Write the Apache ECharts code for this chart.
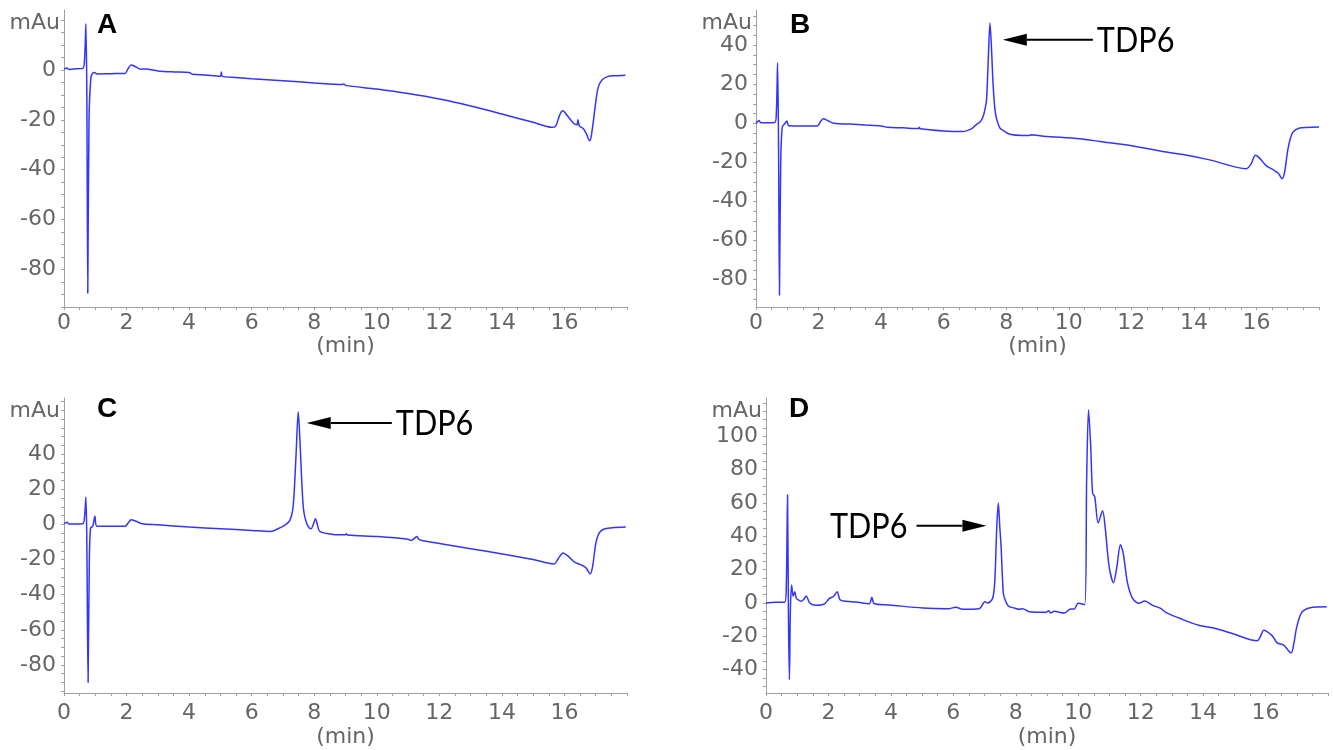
<!DOCTYPE html>
<html>
<head>
<meta charset="utf-8">
<script src="https://cdn.jsdelivr.net/npm/echarts@6/dist/echarts.min.js"></script>
<style>
html,body{margin:0;padding:0;background:#fff;}
#chart{width:1333px;height:750px;}
</style>
</head>
<body>
<div id="chart"></div>
<script>
// ---------- DATA ----------
const panelLetters = ['A', 'B', 'C', 'D'];
const peakName = 'TDP6';
const xLabelName = '(min)';
const yUnitName = 'mAu';

const timesA = [0, 0.1, 0.15, 0.3, 0.6, 0.66, 0.70, 0.73, 0.76, 0.80, 0.86, 0.92, 0.97, 1.05, 1.5, 1.95, 2.05, 2.15, 2.3, 2.45, 2.6, 3.0, 3.5, 4.0, 4.1, 4.5, 5.0, 5.03, 5.06, 5.5, 6, 7, 8, 8.9, 8.95, 9.0, 10, 11, 12, 13, 14, 15, 15.6, 15.72, 15.85, 15.95, 16.1, 16.3, 16.4, 16.43, 16.48, 16.6, 16.7, 16.8, 16.85, 16.92, 17.0, 17.08, 17.2, 17.4, 17.6, 17.95];
const valuesA = [0.3, 0.8, 0.2, 0.4, 0.6, 5, 18.5, -10, -89.5, -20, -3, -1.2, -1.0, -1.6, -1.5, -1.4, 0.5, 2.0, 1.2, 0.3, 0.4, -0.4, -0.8, -1.0, -1.7, -2.0, -2.5, -0.8, -2.6, -3.0, -3.5, -4.3, -5.2, -5.9, -5.6, -6.2, -7.7, -9.5, -11.7, -14.5, -17.7, -21, -23, -22.5, -18, -16.4, -18.5, -21.5, -22, -20, -22.5, -23.5, -25.5, -28.4, -27, -21, -13, -7, -4, -2.6, -2.3, -2.1];

const timesB = [0, 0.1, 0.15, 0.3, 0.6, 0.65, 0.69, 0.72, 0.75, 0.79, 0.84, 0.93, 0.99, 1.05, 1.5, 1.95, 2.05, 2.15, 2.3, 2.5, 3.0, 3.5, 4.0, 4.2, 4.7, 5.2, 5.22, 5.25, 6.0, 6.6, 6.9, 7.05, 7.16, 7.25, 7.32, 7.37, 7.42, 7.48, 7.53, 7.58, 7.64, 7.69, 7.8, 7.9, 8.12, 8.54, 8.75, 8.78, 9.2, 10.35, 11, 12.05, 13, 13.65, 14.5, 15.68, 15.82, 15.97, 16.1, 16.3, 16.57, 16.7, 16.82, 16.9, 17.0, 17.08, 17.17, 17.38, 17.6, 18.0];
const valuesB = [0, 1.5, 0.3, 0.3, 0.4, 5, 31, -10, -88, -20, -1.9, 0, 1.2, -1.3, -1.4, -1.4, 0.5, 2.4, 1.3, 0, -0.4, -0.9, -1.4, -2, -2.3, -2.7, -2.0, -2.8, -3.9, -4.2, -2.7, -0.5, 0.7, 3, 7, 12, 30, 51.4, 38, 20, 7, 2.4, -2.5, -3.6, -5.6, -6.2, -6.2, -5.8, -6.6, -7.9, -9.3, -11.6, -14.4, -16, -18.7, -23.2, -21, -16.4, -17.8, -21.5, -24.1, -25.5, -28.4, -25, -13.8, -8, -4.4, -2.4, -2.1, -1.9];

const timesC = [0, 0.1, 0.15, 0.3, 0.6, 0.66, 0.70, 0.73, 0.77, 0.81, 0.85, 0.92, 0.99, 1.05, 1.5, 1.95, 2.05, 2.15, 2.3, 2.5, 3.0, 4.0, 5.0, 6.0, 6.6, 6.95, 7.1, 7.22, 7.3, 7.35, 7.42, 7.49, 7.55, 7.6, 7.65, 7.7, 7.8, 7.9, 7.97, 8.04, 8.1, 8.18, 8.6, 9.0, 9.03, 9.06, 10.04, 11.0, 11.1, 11.2, 11.28, 11.35, 11.52, 12.05, 13, 14.02, 15, 15.67, 15.8, 15.96, 16.1, 16.31, 16.58, 16.7, 16.82, 16.9, 17.0, 17.08, 17.16, 17.3, 17.53, 17.96];
const valuesC = [0.4, 1.3, 0.3, 0.3, 0.4, 5, 15.6, -10, -90, -20, -2, -1, 4.6, -1, -1.1, -1.1, 0.8, 2.7, 1.8, 0.4, -0.2, -1.5, -2.5, -3.4, -4, -1.5, 0, 2.3, 7, 15.6, 40, 64.2, 45, 25, 10, 4.2, -1, -2.5, 0, 3.2, 0, -4, -5.7, -5.9, -5.3, -6.0, -6.9, -8.4, -9.1, -8, -6.9, -8.5, -9.5, -11, -13.8, -16.8, -20, -22.5, -19.5, -16.2, -17.8, -21.3, -23.4, -25, -28.2, -24, -11, -6, -3.8, -2.5, -1.9, -1.5];

const timesD = [0, 0.3, 0.6, 0.65, 0.69, 0.72, 0.75, 0.78, 0.82, 0.87, 0.92, 0.97, 1.02, 1.13, 1.22, 1.29, 1.4, 1.61, 1.87, 2.03, 2.16, 2.28, 2.37, 2.56, 2.88, 3.31, 3.39, 3.47, 3.95, 5.02, 5.87, 6.08, 6.3, 6.83, 7.01, 7.1, 7.26, 7.33, 7.39, 7.44, 7.49, 7.53, 7.6, 7.66, 7.73, 7.79, 7.95, 8.11, 8.22, 8.43, 8.97, 9.05, 9.12, 9.23, 9.55, 9.76, 9.87, 10.0, 10.21, 10.27, 10.33, 10.4, 10.46, 10.53, 10.64, 10.78, 10.87, 10.99, 11.13, 11.24, 11.35, 11.44, 11.58, 11.74, 11.95, 12.13, 12.38, 12.64, 12.8, 13.33, 13.86, 14.4, 14.93, 15.73, 15.85, 15.94, 16.21, 16.37, 16.58, 16.82, 16.9, 17.0, 17.16, 17.43, 17.96];
const valuesD = [0, 0.4, 0.4, 10, 65, -10, -46, -5, 10.8, 4, 6.7, 3, 2, 1, 2.5, 4.2, 0, -1.4, -0.6, 2.8, 3.9, 6.8, 2, 1, 0.6, -0.4, 3.4, -0.5, -1.2, -3, -3.4, -2.5, -3.8, -3.4, 0.8, 0, 2.8, 13.9, 45, 60, 45, 33.9, 6, 1.8, -1, -2.2, -3, -3.8, -3.4, -5.2, -5.6, -4.6, -6, -5, -6, -3.6, -3.6, -0.2, -1, 74, 116, 94, 66, 63.7, 48, 55.4, 44, 21.9, 12.2, 21.9, 34.9, 29.9, 11.9, 2.8, -0.2, 1.2, -1.4, -3.2, -5.6, -9.8, -13.3, -15.3, -18.3, -22.7, -19.5, -16.3, -19.6, -23.9, -25.3, -29.9, -25, -14.3, -5.6, -2.8, -2.2];

// tick labels shown on each y axis
const yLabelsA = [-80, -60, -40, -20, 0];
const yLabelsB = [-80, -60, -40, -20, 0, 20, 40];
const yLabelsC = [-80, -60, -40, -20, 0, 20, 40];
const yLabelsD = [-40, -20, 0, 20, 40, 60, 80, 100];
// y axis extents
const yRangeA = [-95, 24];
const yRangeB = [-94, 58];
const yRangeC = [-96, 72];
const yRangeD = [-54, 123];
// TDP6 annotation arrows: [tip, tail] in (min, mAu)
const arrowB = [[7.89, 42.8], [10.77, 42.8]];
const arrowC = [[7.76, 57.7], [10.48, 57.7]];
const arrowD = [[7.06, 46.4], [4.82, 46.4]];

// ---------- CHART ----------
const chart = echarts.init(document.getElementById('chart'), null, {renderer: 'canvas'});
const AX_FONT = '"DejaVu Sans", sans-serif';
const AX_COLOR = '#666';
const LINE_GRAY = '#a0a0a0';
const AX_SIZE = 22;

const grids = [
  {left: 64, top: 10, width: 563, height: 297},
  {left: 756, top: 10, width: 563, height: 297},
  {left: 64, top: 398, width: 563, height: 295},
  {left: 766, top: 398, width: 562, height: 295}
];
const ranges = [yRangeA, yRangeB, yRangeC, yRangeD];
const yLabels = [yLabelsA, yLabelsB, yLabelsC, yLabelsD];
const times = [timesA, timesB, timesC, timesD];
const values = [valuesA, valuesB, valuesC, valuesD];
const arrows = [null, arrowB, arrowC, arrowD];

function minorTicks(r, step) {
  const out = [];
  for (let v = Math.ceil(r[0] / step) * step; v <= r[1]; v += step) out.push(v);
  return out;
}

const xAxes = grids.map((g, i) => ({
  type: 'value', gridIndex: i, min: 0, max: 18, interval: 2,
  name: xLabelName, nameLocation: 'middle', nameGap: i < 2 ? 38 : 44,
  nameTextStyle: {fontSize: AX_SIZE, color: AX_COLOR, fontFamily: AX_FONT, verticalAlign: 'middle'},
  axisLine: {show: true, onZero: false, lineStyle: {color: LINE_GRAY, width: 1}},
  axisTick: {show: true, length: 3, lineStyle: {color: LINE_GRAY}},
  minorTick: {show: true, splitNumber: 4, length: 3, lineStyle: {color: LINE_GRAY}},
  axisLabel: {fontSize: AX_SIZE, color: AX_COLOR, fontFamily: AX_FONT, margin: i < 2 ? 5 : 9, showMaxLabel: false},
  splitLine: {show: false}, minorSplitLine: {show: false}
}));

const yAxes = grids.map((g, i) => ({
  type: 'value', gridIndex: i, min: ranges[i][0], max: ranges[i][1],
  name: yUnitName, nameLocation: 'end', nameGap: -13,
  nameTextStyle: {fontSize: AX_SIZE, color: AX_COLOR, fontFamily: AX_FONT, align: 'right', verticalAlign: 'middle', padding: [0, 4, 0, 0]},
  axisLine: {show: true, onZero: false, lineStyle: {color: LINE_GRAY, width: 1}},
  axisTick: {show: true, length: 3, customValues: minorTicks(ranges[i], 5), lineStyle: {color: LINE_GRAY}},
  axisLabel: {fontSize: AX_SIZE, color: AX_COLOR, fontFamily: AX_FONT, margin: 8, customValues: yLabels[i]},
  splitLine: {show: false}
}));

const series = grids.map((g, i) => ({
  type: 'line', xAxisIndex: i, yAxisIndex: i,
  data: times[i].map((t, k) => [t, values[i][k]]),
  showSymbol: false, symbol: 'none', smooth: 0.3,
  lineStyle: {color: '#3434ff', width: 1.5},
  silent: true, animation: false
}));

chart.setOption({
  animation: false,
  backgroundColor: '#fff',
  grid: grids,
  xAxis: xAxes,
  yAxis: yAxes,
  series: series
});

// ---------- annotations: panel letters and TDP6 arrows (anchored to data coords) ----------
const letterPos = [[97, 25], [790, 25.5], [97, 409], [789, 409]];
const graphic = panelLetters.map((L, i) => ({
  type: 'text', x: letterPos[i][0], y: letterPos[i][1],
  style: {text: L, fill: '#000', font: 'bold 28px "Liberation Sans", Arial, sans-serif', verticalAlign: 'middle', align: 'left'}
}));

const HEAD_LEN = 24, HEAD_HALF = 6;
arrows.forEach((a, i) => {
  if (!a) return;
  const tip = chart.convertToPixel({gridIndex: i}, a[0]);
  const tail = chart.convertToPixel({gridIndex: i}, a[1]);
  const dir = Math.sign(tail[0] - tip[0]); // +1: arrow points left, -1: points right
  const baseX = tip[0] + dir * HEAD_LEN;
  const y = tip[1];
  graphic.push({
    type: 'line', shape: {x1: baseX, y1: y, x2: tail[0], y2: y},
    style: {stroke: '#000', lineWidth: 2}
  });
  graphic.push({
    type: 'polygon', shape: {points: [[tip[0], y], [baseX, y - HEAD_HALF], [baseX, y + HEAD_HALF]]},
    style: {fill: '#000'}
  });
  const textX = dir > 0 ? tail[0] + 4 : tail[0] - 9;
  graphic.push({
    type: 'text', x: textX, y: y + 1, scaleX: 0.875, scaleY: 1,
    style: {text: peakName, fill: '#000', font: '35px "Lato", sans-serif',
      align: dir > 0 ? 'left' : 'right', verticalAlign: 'middle'}
  });
});

chart.setOption({graphic: graphic});
</script>
</body>
</html>
